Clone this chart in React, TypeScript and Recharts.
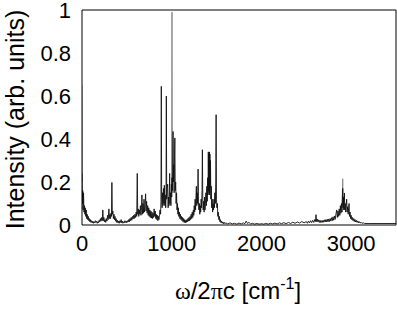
import React from 'react';
import { LineChart, Line, XAxis, YAxis, Label } from 'recharts';

const FONT = '"Liberation Sans", Arial, Helvetica, sans-serif';
const SERIF = '"Liberation Serif", "DejaVu Serif", serif';

const xTicks = [0, 1000, 2000, 3000];
const yTicks = [0, 0.2, 0.4, 0.6, 0.8, 1];

// [wavenumber cm^-1, intensity]
const lowFrequency: [number, number][] = [
  [0, 0.24], [4, 0.1], [8, 0.16], [12, 0.07], [17, 0.15], [22, 0.06], [27, 0.09], [32, 0.05], [37, 0.08], [42, 0.04],
  [47, 0.07], [52, 0.03], [58, 0.05], [64, 0.025], [70, 0.04], [76, 0.02], [82, 0.03], [88, 0.015], [94, 0.025], [100, 0.012],
  [107, 0.02], [114, 0.01], [121, 0.018], [128, 0.008], [135, 0.015], [142, 0.01], [149, 0.02], [156, 0.012], [163, 0.018], [170, 0.008],
  [177, 0.015], [184, 0.01], [191, 0.022], [198, 0.014], [205, 0.03], [212, 0.018], [219, 0.035], [226, 0.02], [232, 0.07], [238, 0.02],
  [244, 0.035], [250, 0.015], [257, 0.025], [264, 0.012], [271, 0.03], [278, 0.018], [285, 0.045], [292, 0.025], [300, 0.075], [306, 0.03],
  [312, 0.05], [318, 0.03], [324, 0.055], [328, 0.04], [333, 0.198], [338, 0.05], [344, 0.065], [350, 0.03], [356, 0.05], [362, 0.025],
  [368, 0.04], [374, 0.018], [380, 0.03], [387, 0.012], [394, 0.022], [401, 0.01], [408, 0.018], [415, 0.008], [422, 0.02], [429, 0.012],
  [436, 0.025], [443, 0.01], [450, 0.018], [457, 0.008], [464, 0.015], [471, 0.01], [478, 0.02], [485, 0.012], [492, 0.018], [499, 0.01],
  [506, 0.02], [513, 0.014], [520, 0.025], [527, 0.015], [534, 0.03], [541, 0.02], [548, 0.035], [555, 0.022], [562, 0.04], [569, 0.028],
  [576, 0.045], [583, 0.03], [590, 0.05], [597, 0.035], [604, 0.06], [610, 0.04], [616, 0.24], [621, 0.05], [627, 0.075], [633, 0.04],
  [639, 0.07], [645, 0.05], [651, 0.09], [657, 0.045], [663, 0.08], [668, 0.14], [673, 0.05], [679, 0.1], [685, 0.055], [691, 0.12],
  [697, 0.06], [703, 0.095], [709, 0.145], [714, 0.065], [720, 0.11], [726, 0.055], [732, 0.09], [738, 0.045], [744, 0.08], [750, 0.04],
  [756, 0.07], [762, 0.035], [768, 0.065], [774, 0.032], [780, 0.06], [786, 0.03], [792, 0.055], [798, 0.035], [804, 0.075], [810, 0.04],
  [816, 0.065], [822, 0.03], [828, 0.05], [834, 0.025], [840, 0.045], [846, 0.02], [852, 0.04], [858, 0.025], [864, 0.05], [870, 0.07],
];

const fingerprint: [number, number][] = [
  [876, 0.05], [880, 0.11], [884, 0.645], [888, 0.12], [893, 0.08], [898, 0.15], [903, 0.09], [908, 0.17], [913, 0.1], [918, 0.185],
  [923, 0.09], [928, 0.14], [933, 0.08], [937, 0.13], [940, 0.6], [944, 0.12], [949, 0.17], [955, 0.19], [960, 0.08], [965, 0.13],
  [970, 0.09], [974, 0.16], [977, 0.24], [981, 0.1], [986, 0.15], [991, 0.09], [996, 0.19], [1000, 0.13], [1003, 0.22], [1007, 0.16],
  [1011, 0.25], [1015, 0.435], [1019, 0.2], [1023, 0.28], [1027, 0.15], [1031, 0.32], [1035, 0.405], [1039, 0.16], [1044, 0.2], [1049, 0.1],
  [1054, 0.15], [1059, 0.07], [1064, 0.1], [1069, 0.05], [1074, 0.08], [1079, 0.04], [1085, 0.06], [1091, 0.03], [1097, 0.05], [1103, 0.025],
  [1109, 0.04], [1115, 0.02], [1121, 0.035], [1127, 0.015], [1133, 0.03], [1139, 0.012], [1145, 0.025], [1151, 0.01], [1157, 0.022], [1163, 0.012],
  [1169, 0.025], [1175, 0.015], [1181, 0.03], [1187, 0.018], [1193, 0.035], [1199, 0.02], [1205, 0.04], [1211, 0.025], [1217, 0.05], [1223, 0.03],
  [1229, 0.06], [1235, 0.035], [1241, 0.07], [1246, 0.045], [1251, 0.09], [1256, 0.06], [1261, 0.12], [1266, 0.07], [1271, 0.14], [1275, 0.18],
  [1279, 0.09], [1284, 0.15], [1289, 0.1], [1294, 0.26], [1298, 0.11], [1303, 0.07], [1308, 0.1], [1313, 0.05], [1318, 0.09], [1323, 0.06],
  [1328, 0.12], [1333, 0.08], [1338, 0.16], [1342, 0.35], [1346, 0.12], [1351, 0.07], [1356, 0.11], [1361, 0.06], [1366, 0.13], [1371, 0.07],
  [1376, 0.1], [1381, 0.15], [1386, 0.09], [1391, 0.18], [1396, 0.11], [1401, 0.22], [1405, 0.14], [1408, 0.34], [1411, 0.16], [1414, 0.33],
  [1417, 0.15], [1420, 0.34], [1423, 0.14], [1426, 0.33], [1429, 0.17], [1432, 0.3], [1436, 0.12], [1441, 0.18], [1446, 0.08], [1451, 0.12],
  [1456, 0.06], [1461, 0.1], [1466, 0.07], [1471, 0.12], [1476, 0.08], [1481, 0.15], [1486, 0.1], [1491, 0.2], [1495, 0.513], [1499, 0.12],
  [1504, 0.08], [1509, 0.1], [1514, 0.04], [1519, 0.06], [1525, 0.025], [1531, 0.04], [1537, 0.015], [1543, 0.025], [1550, 0.01], [1557, 0.018],
  [1564, 0.008], [1571, 0.014], [1578, 0.006], [1586, 0.012], [1594, 0.006], [1602, 0.01],
];

const silentRegion: [number, number][] = [
  [1625, 0.005], [1650, 0.01], [1675, 0.005], [1700, 0.008], [1725, 0.004], [1750, 0.009], [1775, 0.005], [1800, 0.01], [1815, 0.006], [1830, 0.018],
  [1845, 0.007], [1860, 0.012], [1880, 0.005], [1900, 0.008], [1925, 0.004], [1950, 0.007], [1975, 0.004], [2000, 0.006], [2025, 0.004], [2050, 0.007],
  [2075, 0.004], [2100, 0.008], [2125, 0.005], [2150, 0.009], [2175, 0.005], [2200, 0.01], [2225, 0.006], [2250, 0.011], [2275, 0.006], [2300, 0.012],
  [2325, 0.007], [2350, 0.013], [2375, 0.008], [2400, 0.014], [2425, 0.009], [2450, 0.016], [2475, 0.01],
];

const chStretch: [number, number][] = [
  [2500, 0.016], [2512, 0.008], [2524, 0.018], [2536, 0.01], [2548, 0.02], [2560, 0.011], [2572, 0.022], [2584, 0.012], [2596, 0.026], [2603, 0.016],
  [2608, 0.048], [2614, 0.016], [2622, 0.028], [2630, 0.014], [2638, 0.024], [2646, 0.012], [2654, 0.022], [2662, 0.011], [2670, 0.02], [2678, 0.012],
  [2686, 0.022], [2694, 0.013], [2702, 0.024], [2710, 0.014], [2718, 0.025], [2726, 0.014], [2734, 0.027], [2742, 0.015], [2750, 0.028], [2758, 0.016],
  [2766, 0.03], [2774, 0.018], [2782, 0.034], [2790, 0.02], [2798, 0.038], [2806, 0.022], [2814, 0.042], [2822, 0.026], [2830, 0.05], [2839, 0.07],
  [2846, 0.035], [2853, 0.065], [2860, 0.04], [2867, 0.075], [2874, 0.045], [2880, 0.09], [2886, 0.055], [2892, 0.1], [2898, 0.06], [2902, 0.12],
  [2906, 0.17], [2910, 0.08], [2914, 0.13], [2918, 0.07], [2922, 0.12], [2925, 0.149], [2929, 0.07], [2934, 0.1], [2939, 0.06], [2944, 0.09],
  [2950, 0.12], [2955, 0.06], [2961, 0.085], [2967, 0.05], [2972, 0.08], [2977, 0.1], [2982, 0.04], [2988, 0.06], [2994, 0.03], [3000, 0.045],
  [3007, 0.025], [3014, 0.035], [3021, 0.02], [3028, 0.03], [3035, 0.016], [3042, 0.026], [3050, 0.014], [3058, 0.022], [3066, 0.012], [3074, 0.019],
  [3082, 0.01], [3090, 0.016], [3100, 0.009], [3110, 0.013], [3120, 0.008], [3135, 0.01], [3150, 0.007], [3200, 0.007], [3300, 0.007], [3400, 0.007],
  [3500, 0.007],
];

// second (grey) trace, shown only where it rises above the black one
const greySpikes: [number, number | null][] = [
  [0, 0.65], [3, 0.2], [4, null],
  [998, 0.15], [1003, 0.99], [1008, 0.15], [1009, null],
  [2900, 0.09], [2906, 0.215], [2911, 0.09], [2912, null],
];

const blackData = [...lowFrequency, ...fingerprint, ...silentRegion, ...chStretch].map(([x, y]) => ({ x, y }));
const greyData = greySpikes.map(([x, y]) => ({ x, y }));

function XTitle(props: any) {
  const vb = props.viewBox || { x: 82, y: 225, width: 314, height: 86 };
  const cx = vb.x + vb.width / 2 - 1;
  const y = vb.y + 74;
  return (
    <text x={cx} y={y} textAnchor="middle" fontSize={24} fontFamily={FONT} fill="#000">
      <tspan fontFamily={SERIF}>ω</tspan>
      <tspan>/2</tspan>
      <tspan fontFamily={SERIF}>π</tspan>
      <tspan>c [cm</tspan>
      <tspan dy={-10} fontSize={16}>-1</tspan>
      <tspan dy={10}>]</tspan>
    </text>
  );
}

function YTitle(props: any) {
  const vb = props.viewBox || { x: 0, y: 10, width: 82, height: 215 };
  const x = 24;
  const y = vb.y + vb.height / 2 + 2;
  return (
    <text x={x} y={y} textAnchor="middle" fontSize={25} fontFamily={FONT} fill="#000" transform={`rotate(-90 ${x} ${y})`}>
      Intensity (arb. units)
    </text>
  );
}

const tickStyle = { fontSize: 22, fontFamily: FONT, fill: '#000' };

export default function App() {
  return (
    <div style={{ position: 'absolute', left: 0, top: 0, background: '#fff' }}>
      <LineChart width={397} height={311} margin={{ top: 10, right: 1, bottom: 0, left: 0 }}>
        <XAxis
          xAxisId="b"
          dataKey="x"
          type="number"
          domain={[0, 3500]}
          allowDataOverflow
          ticks={xTicks}
          tickLine={false}
          tickSize={0}
          tickMargin={10}
          height={86}
          axisLine={{ stroke: '#000' }}
          tick={tickStyle}
          interval={0}
        >
          <Label content={<XTitle />} />
        </XAxis>
        <XAxis
          xAxisId="bm"
          dataKey="x"
          type="number"
          domain={[0, 3500]}
          allowDataOverflow
          ticks={xTicks}
          orientation="bottom"
          mirror
          tick={false}
          tickSize={4}
          height={20}
          axisLine={false}
          tickLine={{ stroke: '#000' }}
          interval={0}
        />
        <XAxis
          xAxisId="t"
          dataKey="x"
          type="number"
          domain={[0, 3500]}
          allowDataOverflow
          ticks={xTicks}
          orientation="top"
          mirror
          tick={false}
          tickSize={4}
          height={20}
          axisLine={{ stroke: '#000' }}
          tickLine={{ stroke: '#000' }}
          interval={0}
        />
        <YAxis
          yAxisId="l"
          type="number"
          domain={[0, 1]}
          allowDataOverflow
          ticks={yTicks}
          tickLine={false}
          tickSize={0}
          tickMargin={11}
          width={82}
          axisLine={{ stroke: '#000' }}
          tick={tickStyle}
          interval={0}
        >
          <Label content={<YTitle />} />
        </YAxis>
        <YAxis
          yAxisId="lm"
          type="number"
          domain={[0, 1]}
          allowDataOverflow
          ticks={yTicks}
          mirror
          tick={false}
          tickSize={4}
          width={20}
          axisLine={false}
          tickLine={{ stroke: '#000' }}
          interval={0}
        />
        <YAxis
          yAxisId="r"
          type="number"
          domain={[0, 1]}
          allowDataOverflow
          ticks={yTicks}
          orientation="right"
          mirror
          tick={false}
          tickSize={4}
          width={20}
          axisLine={{ stroke: '#000' }}
          tickLine={{ stroke: '#000' }}
          interval={0}
        />
        {/* invisible traces that give the frame axes their scales */}
        <Line xAxisId="bm" yAxisId="lm" data={blackData} dataKey="y" stroke="none" dot={false} activeDot={false} isAnimationActive={false} />
        <Line xAxisId="t" yAxisId="r" data={blackData} dataKey="y" stroke="none" dot={false} activeDot={false} isAnimationActive={false} />
        <Line
          xAxisId="b"
          yAxisId="l"
          data={greyData}
          dataKey="y"
          type="linear"
          stroke="#8a8a8a"
          strokeWidth={1}
          dot={false}
          activeDot={false}
          isAnimationActive={false}
        />
        <Line
          xAxisId="b"
          yAxisId="l"
          data={blackData}
          dataKey="y"
          type="linear"
          stroke="#111"
          strokeWidth={0.9}
          dot={false}
          activeDot={false}
          isAnimationActive={false}
        />
      </LineChart>
    </div>
  );
}
